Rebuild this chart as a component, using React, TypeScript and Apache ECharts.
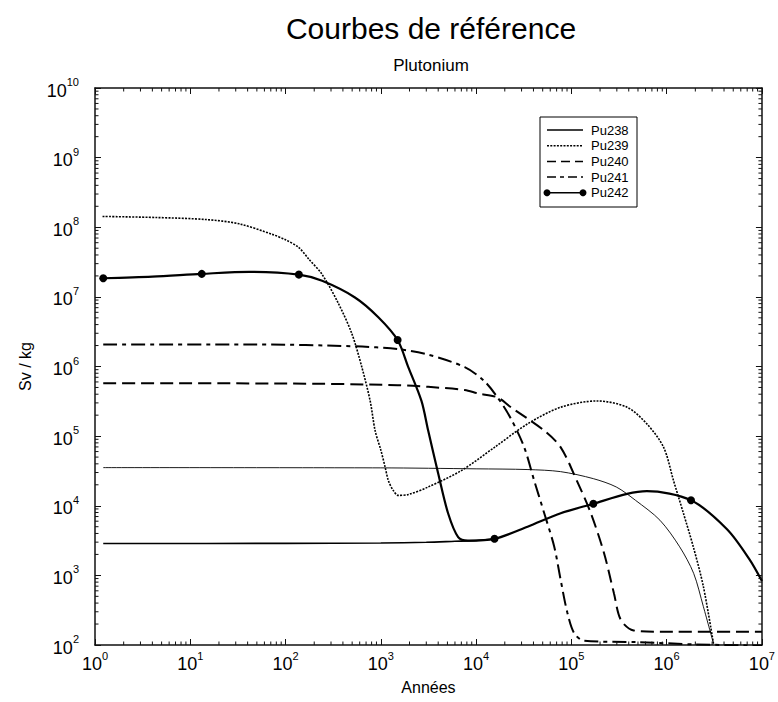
import React, { useEffect, useRef } from 'react';
import * as echarts from 'echarts';

// ---- Data (years, Sv/kg) ----
const pu238Times = [1.22, 1000, 10000, 35000, 77000, 170000, 296000, 470000, 850000, 1370000, 1920000, 2430000, 3100000];
const pu238Values = [3.53e4, 3.5e4, 3.39e4, 3.31e4, 3.09e4, 2.45e4, 1.86e4, 1.2e4, 6.2e3, 2.57e3, 1.07e3, 355, 105];

const pu239Times = [1.2, 4.4, 14.7, 32.6, 72.7, 100, 138, 175, 242, 361, 497, 632, 773, 871, 1000, 1109, 1200, 1350, 1520, 1950, 3140, 7000, 15600, 34700, 77300, 187000, 384000, 620000, 930000, 1180000, 1500000, 1900000, 2430000, 3100000];
const pu239Values = [1.43e8, 1.38e8, 1.29e8, 1.12e8, 7.9e7, 6.6e7, 5.1e7, 3.5e7, 2.1e7, 7.9e6, 2.95e6, 9.8e5, 3.2e5, 1.2e5, 6.3e4, 3.6e4, 2.3e4, 1.66e4, 1.41e4, 1.45e4, 1.86e4, 3.2e4, 6.9e4, 1.5e5, 2.6e5, 3.2e5, 2.6e5, 1.5e5, 6.9e4, 2.3e4, 7.8e3, 2.6e3, 690, 105];

const pu240Times = [1.22, 100, 1500, 3140, 7600, 10500, 16800, 23200, 51900, 77300, 114000, 160000, 220000, 280000, 330000, 450000, 850000, 10000000];
const pu240Values = [5.75e5, 5.7e5, 5.4e5, 5.1e5, 4.6e5, 4.1e5, 3.6e5, 2.6e5, 1.2e5, 6.9e4, 2.3e4, 7.8e3, 2.1e3, 550, 230, 162, 155, 155];

const pu241Times = [1.22, 48.7, 535, 1500, 3140, 7600, 12000, 16800, 23200, 32000, 40700, 51900, 66000, 77300, 90800, 107000, 136000, 500000, 2000000, 10000000];
const pu241Values = [2.07e6, 2.07e6, 1.95e6, 1.78e6, 1.48e6, 9.8e5, 6.3e5, 3.6e5, 1.78e5, 6.9e4, 2.3e4, 7.8e3, 2.6e3, 850, 290, 148, 115, 110, 102, 98];

const pu242Times = [1.22, 4, 13.2, 41.5, 138, 242, 535, 941, 1500, 1941, 2670, 3140, 4000, 5080, 6480, 8200, 15600, 34700, 77300, 170000, 384000, 620000, 1800000, 4300000, 7400000, 10000000];
const pu242Values = [1.85e7, 1.95e7, 2.14e7, 2.29e7, 2.09e7, 1.7e7, 9.8e6, 5.1e6, 2.4e6, 9.8e5, 3.2e5, 1.2e5, 2.9e4, 7.8e3, 3.55e3, 3.16e3, 3.35e3, 5.0e3, 7.8e3, 1.07e4, 1.48e4, 1.62e4, 1.2e4, 4.6e3, 1.7e3, 830];
const pu242MarkerTimes = [1.22, 13.2, 138, 1500, 15600, 170000, 1800000];

// unlabeled solid branch (low plateau joining the Pu242 curve)
const branchTimes = [1.22, 100, 1000, 3000, 6000, 9600, 15600];
const branchValues = [2.87e3, 2.88e3, 2.92e3, 2.99e3, 3.09e3, 3.16e3, 3.35e3];

const minorMultipliers = [2, 3, 4, 5, 6, 7, 8, 9];
const xDecades = [0, 1, 2, 3, 4, 5, 6];
const yDecades = [2, 3, 4, 5, 6, 7, 8, 9];

const titleText = 'Courbes de référence';
const subtitleText = 'Plutonium';
const xName = 'Années';
const yName = 'Sv / kg';

const X_MIN = 1;
const X_MAX = 1e7;
const Y_MIN = 1e2;
const Y_MAX = 1e10;

const FONT = '"Liberation Sans", Arial, Helvetica, sans-serif';

function pairs(t: number[], v: number[]) {
  return t.map((x, i) => [x, v[i]]);
}

export default function App() {
  const ref = useRef<HTMLDivElement | null>(null);

  useEffect(() => {
    if (!ref.current) return;
    const chart = echarts.init(ref.current, null, { renderer: 'svg' });

    const supFormatter = (v: number) => `{b|10}{s|${Math.round(Math.log10(v))}}`;
    const rich = {
      b: { fontSize: 18, lineHeight: 23, verticalAlign: 'bottom', fontFamily: FONT, color: '#000' },
      s: { fontSize: 11, lineHeight: 12, verticalAlign: 'top', fontFamily: FONT, color: '#000' },
    };

    const axisLine = { show: true, lineStyle: { color: '#111', width: 1.5 } };
    const axisTick = { show: true, inside: true, length: 6, lineStyle: { color: '#111', width: 1 } };

    const minorData: number[][] = [];
    xDecades.forEach((d) => minorMultipliers.forEach((m) => minorData.push([m * Math.pow(10, d), Y_MIN, 0])));
    yDecades.forEach((d) => minorMultipliers.forEach((m) => minorData.push([X_MIN, m * Math.pow(10, d), 1])));

    const markerSet = new Set(pu242MarkerTimes);

    const base = {
      type: 'line',
      smooth: 0.3,
      showSymbol: false,
      symbol: 'none',
      silent: true,
      z: 3,
    };

    const legendItems = [
      { name: 'Pu238', dash: null as number[] | null, width: 1.5, dots: false },
      { name: 'Pu239', dash: [2, 1.3], width: 1.5, dots: false },
      { name: 'Pu240', dash: [9, 5], width: 1.5, dots: false },
      { name: 'Pu241', dash: [9, 4, 4, 4], width: 1.5, dots: false },
      { name: 'Pu242', dash: null, width: 1.5, dots: true },
    ];
    const legX = 540, legY = 117, rowH = 15.7;
    const legendGraphics: any[] = [
      { type: 'rect', shape: { x: legX, y: legY, width: 97, height: 90 }, style: { fill: '#fff', stroke: '#000', lineWidth: 1 }, z: 10 },
    ];
    legendItems.forEach((it, i) => {
      const y = legY + 13 + i * rowH;
      legendGraphics.push({
        type: 'line', z: 11,
        shape: { x1: legX + 7, y1: y, x2: legX + 43, y2: y },
        style: { stroke: '#000', lineWidth: it.width, lineDash: it.dash || undefined },
      });
      if (it.dots) {
        legendGraphics.push({ type: 'circle', z: 12, shape: { cx: legX + 7, cy: y, r: 3.5 }, style: { fill: '#000' } });
        legendGraphics.push({ type: 'circle', z: 12, shape: { cx: legX + 43, cy: y, r: 3.5 }, style: { fill: '#000' } });
      }
      legendGraphics.push({
        type: 'text', z: 12, x: legX + 51, y,
        style: { text: it.name, fontSize: 13, fontFamily: FONT, fill: '#000', verticalAlign: 'middle', align: 'left' },
      });
    });

    const option: any = {
      animation: false,
      backgroundColor: '#fff',
      textStyle: { fontFamily: FONT },
      title: [
        { text: titleText, left: 426, top: 8, textAlign: 'center', textStyle: { fontSize: 30, fontWeight: 'normal', color: '#000', fontFamily: FONT } },
        { text: subtitleText, left: 426, top: 52, textAlign: 'center', textStyle: { fontSize: 17, fontWeight: 'normal', color: '#000', fontFamily: FONT } },
      ],
      grid: { left: 95, right: 12, top: 88, bottom: 57, containLabel: false },
      xAxis: [
        {
          type: 'log', logBase: 10, min: X_MIN, max: X_MAX, interval: 1, splitNumber: 7,
          name: xName, nameLocation: 'middle', nameGap: 34,
          nameTextStyle: { fontSize: 16, color: '#000', fontFamily: FONT },
          axisLine, axisTick, splitLine: { show: false }, minorTick: { show: false },
          axisLabel: { formatter: supFormatter, rich, margin: 5, color: '#000' },
        },
        {
          type: 'log', logBase: 10, min: X_MIN, max: X_MAX, interval: 1, splitNumber: 7, position: 'top',
          axisLine, axisTick, splitLine: { show: false }, axisLabel: { show: false },
        },
      ],
      yAxis: [
        {
          type: 'log', logBase: 10, min: Y_MIN, max: Y_MAX, interval: 1, splitNumber: 8,
          name: yName, nameLocation: 'middle', nameGap: 62, nameRotate: 90,
          nameTextStyle: { fontSize: 16, color: '#000', fontFamily: FONT },
          axisLine, axisTick, splitLine: { show: false },
          axisLabel: { formatter: supFormatter, rich, margin: 16, color: '#000' },
        },
        {
          type: 'log', logBase: 10, min: Y_MIN, max: Y_MAX, interval: 1, splitNumber: 8, position: 'right',
          axisLine, axisTick, splitLine: { show: false }, axisLabel: { show: false },
        },
      ],
      graphic: legendGraphics,
      series: [
        {
          ...base, name: 'Pu238', data: pairs(pu238Times, pu238Values),
          lineStyle: { color: '#000', width: 0.9, type: 'solid' },
        },
        {
          ...base, name: 'Pu239', data: pairs(pu239Times, pu239Values),
          lineStyle: { color: '#000', width: 1.6, type: [2, 1.3] },
        },
        {
          ...base, name: 'Pu240', data: pairs(pu240Times, pu240Values),
          lineStyle: { color: '#000', width: 2, type: [13, 6] },
        },
        {
          ...base, name: 'Pu241', data: pairs(pu241Times, pu241Values),
          lineStyle: { color: '#000', width: 2, type: [14, 5, 4, 5] },
        },
        {
          ...base, name: 'branch', data: pairs(branchTimes, branchValues),
          lineStyle: { color: '#000', width: 1.6, type: 'solid' },
        },
        {
          ...base, name: 'Pu242', showSymbol: true, symbol: 'none', symbolSize: 8,
          itemStyle: { color: '#000' },
          data: pu242Times.map((t, i) => ({ value: [t, pu242Values[i]], symbol: markerSet.has(t) ? 'circle' : 'none' })),
          lineStyle: { color: '#000', width: 2.2, type: 'solid' },
          z: 4,
        },
        {
          type: 'custom', name: 'minorTicks', silent: true, clip: false, z: 5,
          encode: { x: 0, y: 1 },
          data: minorData,
          renderItem: (params: any, api: any) => {
            const kind = api.value(2);
            const style = { stroke: '#111', lineWidth: 1 };
            const L = 3.5;
            if (kind === 0) {
              const x = api.value(0);
              const b = api.coord([x, Y_MIN]);
              const t = api.coord([x, Y_MAX]);
              return {
                type: 'group',
                children: [
                  { type: 'line', shape: { x1: b[0], y1: b[1], x2: b[0], y2: b[1] - L }, style },
                  { type: 'line', shape: { x1: t[0], y1: t[1], x2: t[0], y2: t[1] + L }, style },
                ],
              };
            }
            const y = api.value(1);
            const l = api.coord([X_MIN, y]);
            const r = api.coord([X_MAX, y]);
            return {
              type: 'group',
              children: [
                { type: 'line', shape: { x1: l[0], y1: l[1], x2: l[0] + L, y2: l[1] }, style },
                { type: 'line', shape: { x1: r[0], y1: r[1], x2: r[0] - L, y2: r[1] }, style },
              ],
            };
          },
        },
      ],
    };

    chart.setOption(option);
    return () => chart.dispose();
  }, []);

  return (
    <div
      ref={ref}
      style={{ position: 'fixed', left: 0, top: 0, width: 778, height: 702, background: '#fff' }}
    />
  );
}
